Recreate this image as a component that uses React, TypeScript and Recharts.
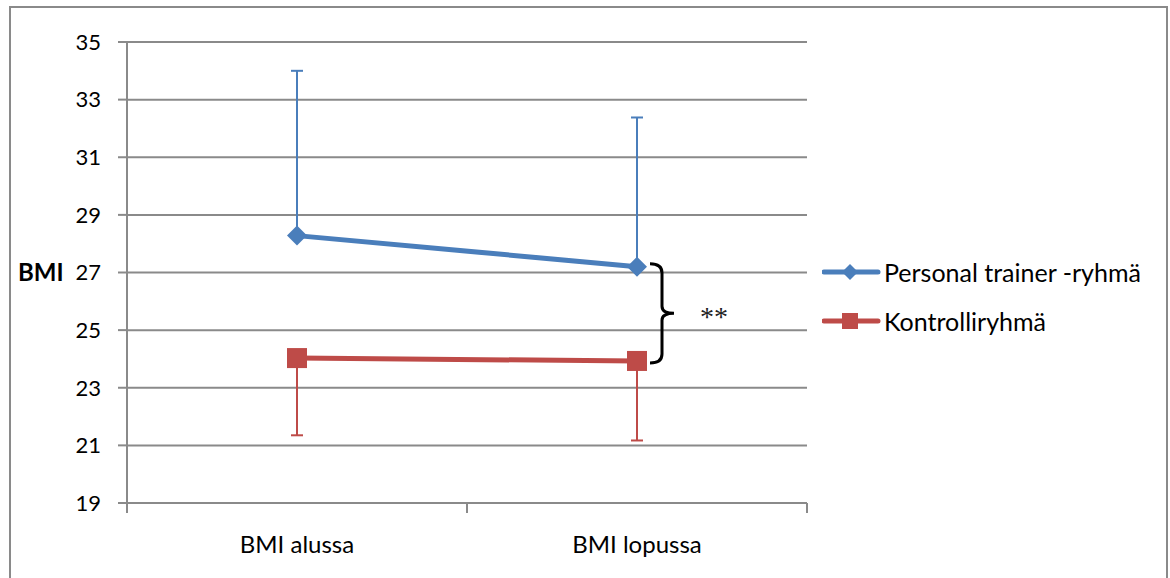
import React from 'react'
import { ComposedChart, Line, XAxis, YAxis, CartesianGrid, ErrorBar, ReferenceArea, Label } from 'recharts'

const CATEGORIES = ['BMI alussa', 'BMI lopussa']
const PT_MEAN = [28.28, 27.2]
const PT_SD = [5.72, 5.18]
const KONTROLLI_MEAN = [24.03, 23.93]
const KONTROLLI_SD = [2.68, 2.76]
const Y_TICKS = [19, 21, 23, 25, 27, 29, 31, 33, 35]
const SERIES_NAMES = ['Personal trainer -ryhmä', 'Kontrolliryhmä']

const BLUE = '#4a7ebb'
const RED = '#be4b48'
const GRID = '#8a8a8a'
const FONT = 'Lato, "Open Sans", sans-serif'

// only the upper whisker for the PT group, only the lower for controls
const data = CATEGORIES.map((name, i) => ({
  name,
  pt: PT_MEAN[i],
  ptErr: [0, PT_SD[i]],
  k: KONTROLLI_MEAN[i],
  kErr: [KONTROLLI_SD[i], 0],
}))

const TICK_SIZE = 10
const TICK_MARGIN = 23

function CategoryTick(props: any) {
  const { x, y, payload, index, width } = props
  const half = payload?.offset || width / CATEGORIES.length / 2
  const axisY = y - TICK_SIZE - TICK_MARGIN
  return (
    <g>
      <line x1={x - half} x2={x - half} y1={axisY} y2={axisY + TICK_SIZE} stroke={GRID} strokeWidth={2} />
      {index === CATEGORIES.length - 1 && (
        <line x1={x + half} x2={x + half} y1={axisY} y2={axisY + TICK_SIZE} stroke={GRID} strokeWidth={2} />
      )}
      <text x={x} y={y} dy="0.71em" textAnchor="middle" fontSize={24} fontFamily={FONT} fill="#000">
        {payload.value}
      </text>
    </g>
  )
}

function Diamond({ cx, cy, r = 10, fill = BLUE }: { cx: number; cy: number; r?: number; fill?: string }) {
  return <polygon points={`${cx},${cy - r} ${cx + r},${cy} ${cx},${cy + r} ${cx - r},${cy}`} fill={fill} />
}

function Square({ cx, cy, r = 10, fill = RED }: { cx: number; cy: number; r?: number; fill?: string }) {
  return <rect x={cx - r} y={cy - r} width={r * 2} height={r * 2} fill={fill} />
}

function Brace(props: any) {
  const { x, y, width, height } = props
  const cx = x + width / 2
  const top = y - 3
  const bottom = y + height + 2
  const mid = (top + bottom) / 2
  const a = cx + 13
  const b = cx + 25
  const tip = cx + 37
  const d = `M ${a} ${top} Q ${b} ${top} ${b} ${top + 9} L ${b} ${mid - 7} Q ${b} ${mid} ${tip} ${mid} Q ${b} ${mid} ${b} ${mid + 7} L ${b} ${bottom - 9} Q ${b} ${bottom} ${a} ${bottom}`
  return (
    <g>
      <path d={d} fill="none" stroke="#000" strokeWidth={3} />
      <text x={cx + 63} y={mid + 13} fontSize={28} fontFamily='"Liberation Serif", serif' fill="#222">
        **
      </text>
    </g>
  )
}

function ChartLegend() {
  const rows = [
    { name: SERIES_NAMES[0], color: BLUE, marker: 'diamond' },
    { name: SERIES_NAMES[1], color: RED, marker: 'square' },
  ]
  return (
    <div style={{ position: 'absolute', left: 822, top: 255 }}>
      {rows.map((row) => (
        <div key={row.name} style={{ display: 'flex', alignItems: 'center', height: 34, marginBottom: 15 }}>
          <svg width={60} height={24}>
            <line x1={2} x2={56} y1={12} y2={12} stroke={row.color} strokeWidth={5} strokeLinecap="round" />
            {row.marker === 'diamond' ? (
              <Diamond cx={28} cy={12} r={8} fill={row.color} />
            ) : (
              <Square cx={28} cy={12} r={8} fill={row.color} />
            )}
          </svg>
          <span style={{ fontFamily: FONT, fontSize: 25, color: '#000', marginLeft: 2, whiteSpace: 'nowrap' }}>
            {row.name}
          </span>
        </div>
      ))}
    </div>
  )
}

export default function App() {
  return (
    <div style={{ position: 'absolute', left: 0, top: 0, width: 1170, height: 578, overflow: 'hidden', background: '#fff' }}>
      <div
        style={{
          position: 'absolute',
          left: 9,
          top: 6,
          width: 1155,
          height: 620,
          border: `2px solid ${GRID}`,
        }}
      />
      <ComposedChart
        width={1170}
        height={578}
        data={data}
        margin={{ top: 42, right: 363, bottom: 15, left: 27 }}
        style={{ position: 'absolute', left: 0, top: 0 }}
      >
        <CartesianGrid vertical={false} stroke={GRID} strokeWidth={2} />
        <XAxis
          dataKey="name"
          scale="band"
          height={60}
          tickSize={TICK_SIZE}
          tickMargin={TICK_MARGIN}
          tickLine={false}
          axisLine={{ stroke: GRID, strokeWidth: 2 }}
          tick={<CategoryTick />}
          interval={0}
        />
        <YAxis
          width={100}
          domain={[19, 35]}
          ticks={Y_TICKS}
          allowDataOverflow
          tickSize={9}
          tickMargin={17}
          axisLine={{ stroke: GRID, strokeWidth: 2 }}
          tickLine={{ stroke: GRID, strokeWidth: 2 }}
          tick={{ fontSize: 22, fontFamily: FONT, fill: '#000' }}
        >
          <Label
            value="BMI"
            position="insideLeft"
            offset={-9}
            style={{ fontSize: 24, fontWeight: 700, fontFamily: FONT, fill: '#000' }}
          />
        </YAxis>
        <Line
          dataKey="pt"
          name={SERIES_NAMES[0]}
          stroke={BLUE}
          strokeWidth={5}
          isAnimationActive={false}
          dot={(p: any) => <Diamond key={`pt-${p.index}`} cx={p.cx} cy={p.cy} />}
          activeDot={false}
        >
          <ErrorBar dataKey="ptErr" direction="y" width={6} stroke={BLUE} strokeWidth={2} isAnimationActive={false} />
        </Line>
        <Line
          dataKey="k"
          name={SERIES_NAMES[1]}
          stroke={RED}
          strokeWidth={5}
          isAnimationActive={false}
          dot={(p: any) => <Square key={`k-${p.index}`} cx={p.cx} cy={p.cy} />}
          activeDot={false}
        >
          <ErrorBar dataKey="kErr" direction="y" width={6} stroke={RED} strokeWidth={2} isAnimationActive={false} />
        </Line>
        <ReferenceArea
          x1={CATEGORIES[1]}
          x2={CATEGORIES[1]}
          y1={KONTROLLI_MEAN[1]}
          y2={PT_MEAN[1]}
          ifOverflow="visible"
          shape={<Brace />}
        />
      </ComposedChart>
      <ChartLegend />
    </div>
  )
}
